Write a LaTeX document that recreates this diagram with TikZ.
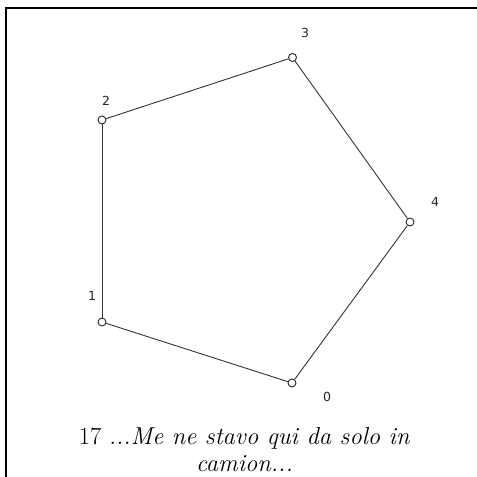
\documentclass[tikz,border=0pt]{standalone}
\usepackage{fontspec}
\newfontfamily\labfont{DejaVu Sans}
\begin{document}
\begin{tikzpicture}[x=1pt,y=-1pt,
  vtx/.style={circle,draw=black!85,fill=white,line width=0.9pt,minimum size=8pt,inner sep=0pt},
  edge/.style={draw=black!80,line width=0.9pt},
  lab/.style={font=\labfont\fontsize{12.5}{14}\selectfont,text=black!85,inner sep=0pt},
  captxt/.style={font=\fontsize{24.5}{29}\selectfont,inner sep=0pt,anchor=base},
  frame/.style={line width=2.2pt,draw=black}]
\useasboundingbox (0,0) rectangle (477,477);
\coordinate (fl) at (6,477);
\coordinate (fc) at (6,8);
\coordinate (fr) at (477,8);
\draw[frame] (fl) -- (fc) -- (fr);
\node[vtx] (v0) at (292,383) {};
\node[vtx] (v1) at (102,322) {};
\node[vtx] (v2) at (102,120) {};
\node[vtx] (v3) at (292.5,57.5) {};
\node[vtx] (v4) at (410,222) {};
\draw[edge] (v0) -- (v1);
\draw[edge] (v1) -- (v2);
\draw[edge] (v2) -- (v3);
\draw[edge] (v3) -- (v4);
\draw[edge] (v4) -- (v0);
\node[lab] (l0) at (327,397) {0};
\node[lab] (l1) at (92,296) {1};
\node[lab] (l2) at (106,101) {2};
\node[lab] (l3) at (305,33) {3};
\node[lab] (l4) at (435,202) {4};
\node[captxt] (cap1) at (244.5,444) {17 \textit{...Me ne stavo qui da solo in}};
\node[captxt] (cap2) at (244.5,471) {\textit{camion...}};
\end{tikzpicture}
\end{document}
